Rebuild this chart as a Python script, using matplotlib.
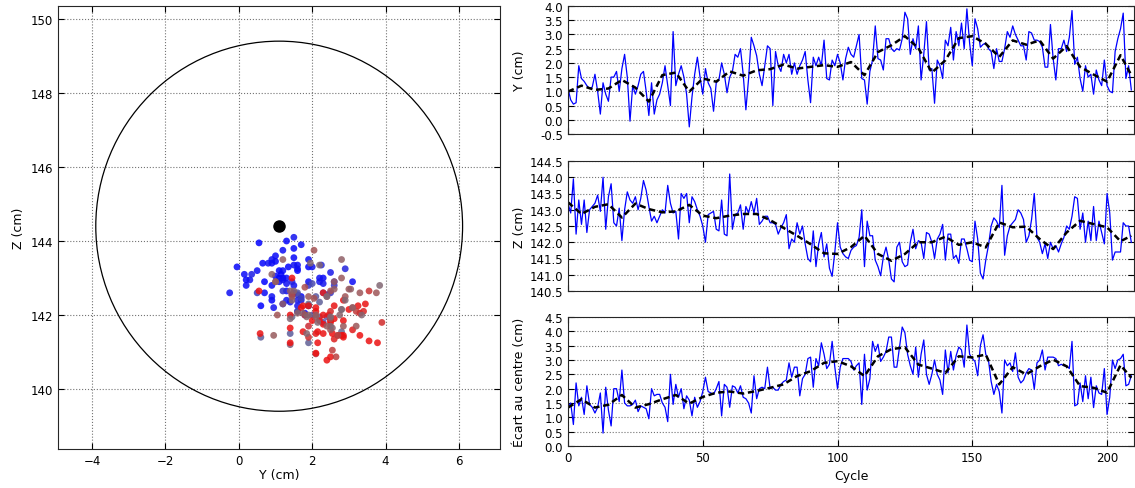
import numpy as np
import matplotlib.pyplot as plt
from matplotlib.patches import Circle
from matplotlib.colors import LinearSegmentedColormap

plt.rcParams['font.family'] = 'DejaVu Sans'
plt.rcParams['font.size'] = 8.5

# --- données (une valeur par cycle) ---
y_cm = [
    1.1, 0.7, 0.55, 0.6, 1.9, 1.45, 1.35, 1.2, 1.1, 1.15,
    1.6, 1.0, 0.2, 1.3, 0.9, 0.65, 1.5, 1.5, 1.7, 1.0,
    1.8, 2.3, 1.5, -0.05, 1.2, 0.9, 1.2, 1.6, 1.7, 1.0,
    0.15, 1.3, 0.2, 0.7, 0.9, 1.3, 1.9, 1.2, 0.5, 3.1,
    1.2, 1.6, 1.9, 1.5, 0.9, -0.25, 0.8, 1.6, 2.2, 1.5,
    0.9, 1.8, 1.3, 1.1, 0.3, 1.3, 1.4, 2.0, 1.6, 0.95,
    1.5, 1.7, 2.3, 2.2, 2.5, 1.6, 0.35, 1.45, 2.9, 2.6,
    2.25, 1.6, 1.2, 1.9, 2.6, 2.5, 0.5, 2.4, 1.9, 1.7,
    2.3, 2.0, 2.3, 1.6, 2.0, 1.6, 1.9, 2.1, 2.4, 1.4,
    0.6, 2.2, 1.9, 2.2, 1.9, 2.8, 1.45, 1.4, 2.1, 1.9,
    2.3, 2.0, 1.4, 2.15, 2.55, 2.3, 2.2, 2.6, 3.0, 1.45,
    1.4, 0.55, 1.7, 2.1, 3.3, 2.15, 2.1, 1.75, 2.85, 2.85,
    2.5, 2.4, 2.5, 2.45, 2.85, 3.78, 3.55, 2.3, 2.85, 2.5,
    3.3, 1.4, 2.3, 3.45, 1.75, 1.8, 0.58, 2.1, 1.9, 1.45,
    2.8, 2.6, 3.25, 2.1, 3.1, 2.6, 3.4, 2.5, 3.9, 2.7,
    1.9, 3.55, 3.2, 2.55, 2.65, 2.7, 2.5, 2.4, 1.8, 2.5,
    2.05, 2.05, 2.5, 3.1, 2.9, 3.3, 3.0, 2.8, 2.6, 2.6,
    2.1, 3.1, 3.05, 2.8, 2.8, 2.75, 2.55, 1.85, 1.85, 3.35,
    2.15, 1.4, 2.5, 2.5, 2.8, 2.4, 2.9, 3.84, 1.95, 2.2,
    1.45, 1.0, 1.9, 1.5, 1.6, 0.9, 1.75, 1.4, 1.2, 2.1,
    1.2, 1.0, 0.95, 2.4, 2.85, 3.2, 3.75, 1.45, 1.9, 1.05,
]

z_cm = [
    143.2, 142.9, 143.95, 142.25, 143.3, 142.55, 143.3, 142.3, 143.0, 143.1,
    143.2, 143.45, 142.95, 144.0, 142.4, 143.4, 143.8, 142.6, 142.5, 143.05,
    142.05, 143.0, 143.55, 143.3, 143.2, 143.4, 143.0, 143.35, 143.9, 143.6,
    143.1, 142.65, 142.8, 142.6, 142.8, 143.0, 142.9, 143.75, 143.2, 142.9,
    142.95, 142.1, 143.5, 143.35, 143.5, 142.6, 143.4, 143.25, 143.0, 142.8,
    142.5, 142.0, 142.85, 142.9, 142.95, 142.4, 142.35, 143.3, 142.25, 142.2,
    144.1, 142.4, 142.85, 142.9, 143.15, 142.4, 143.1, 142.9, 143.25, 142.9,
    143.35, 142.55, 142.65, 142.8, 142.8, 142.6, 142.6, 142.55, 142.25, 142.45,
    142.6, 142.85, 141.8, 142.1, 142.0, 142.6, 142.25, 142.5, 141.95, 141.5,
    141.4, 142.35, 141.25, 141.95, 142.3, 141.55, 141.95, 141.2, 140.95, 141.7,
    142.6, 141.85, 141.65, 141.55, 141.5, 141.75, 141.85, 141.9, 142.15, 143.0,
    141.25, 142.65, 142.2, 142.2, 141.45, 141.25, 140.97, 141.55, 141.85, 141.45,
    140.87, 140.78, 141.85, 142.0, 141.4, 141.25, 141.3, 142.0, 142.4, 141.8,
    142.05, 142.0, 141.5, 142.3, 142.25, 142.0, 141.5, 142.1, 142.25, 142.55,
    141.45, 142.25, 142.25, 141.5, 141.6, 141.35, 142.1, 142.1, 141.8, 141.45,
    141.4, 142.65, 142.1, 141.05, 140.87, 141.45, 141.9, 142.5, 142.75, 142.65,
    142.45, 143.75, 141.6, 142.2, 142.5, 142.6, 142.7, 143.0, 142.9, 142.7,
    142.0, 142.2, 142.7, 143.5, 142.15, 142.0, 141.65, 141.95, 141.5, 142.0,
    141.8, 141.9, 141.7, 141.95, 142.15, 142.5, 142.4, 142.8, 143.4, 143.35,
    142.4, 142.9, 142.0, 142.65, 142.05, 143.1, 142.05, 142.65, 142.3, 141.95,
    143.5, 142.9, 141.45, 141.7, 141.7, 141.7, 142.6, 142.5, 142.5, 142.0,
]

ecart_cm = [
    1.35, 1.5, 0.75, 2.2, 1.4, 1.7, 1.1, 2.1, 1.45, 1.35,
    1.15, 1.35, 1.85, 0.45, 2.05, 1.25, 0.7, 2.0, 2.0, 1.55,
    2.65, 1.5, 1.4, 1.4, 1.45, 1.6, 1.2, 1.4, 1.35, 1.3,
    0.95, 2.0, 1.75, 1.8, 1.8, 1.5, 1.35, 0.85, 2.5, 1.45,
    2.15, 1.7, 2.0, 1.3, 1.75, 1.6, 1.05, 1.7, 1.35, 1.55,
    1.9, 2.4, 1.9, 1.85, 1.8, 2.0, 2.25, 1.05, 2.15, 2.05,
    1.35, 2.1, 2.05, 1.85, 2.1, 1.7, 1.65, 1.5, 1.15, 2.45,
    1.65, 2.0, 2.05, 2.0, 2.75, 2.0, 2.05, 1.95, 1.95, 2.15,
    2.25, 2.3, 2.9, 2.4, 2.75, 2.75, 1.75, 2.35, 2.5, 3.05,
    3.1, 2.05, 3.05, 2.8, 3.6, 3.2, 2.7, 2.85, 3.65, 2.75,
    2.0, 2.75, 3.05, 3.05, 3.05, 2.95, 2.65, 2.8, 2.9, 1.45,
    3.2, 1.95, 2.35, 3.65, 3.3, 3.55, 2.95, 3.1, 3.3, 3.8,
    3.8, 2.75, 2.75, 3.45, 4.15, 3.95, 3.2, 2.8, 2.5, 3.45,
    2.4, 3.2, 3.7, 2.5, 2.15, 2.5, 3.0, 2.5, 2.3, 1.8,
    3.35, 2.55, 3.3, 2.65, 3.15, 3.45, 3.35, 2.75, 4.22, 3.2,
    3.05, 2.95, 2.45, 3.5, 3.88, 3.2, 3.0, 2.25, 1.8, 2.15,
    1.9, 1.15, 3.0, 2.8, 2.9, 2.6, 3.25, 2.4, 2.2, 2.3,
    2.55, 2.7, 2.65, 1.98, 2.9, 3.0, 3.35, 2.65, 3.1, 3.1,
    3.1, 3.05, 2.8, 2.85, 2.8, 2.8, 2.7, 3.65, 1.4, 1.45,
    2.2, 1.55, 2.45, 1.65, 2.4, 1.34, 2.1, 1.85, 1.8, 2.7,
    1.1, 1.7, 3.0, 2.7, 3.0, 3.05, 3.2, 2.1, 2.15, 2.45,
]

# courbes lissées (pointillés noirs), lues tous les 5 cycles
cycles_lisse = [0, 5, 10, 15, 20, 25, 30, 35, 40, 45, 50, 55, 60, 65, 70, 75, 80,
                85, 90, 95, 100, 105, 110, 115, 120, 125, 130, 135, 140, 145, 150,
                155, 160, 165, 170, 175, 180, 185, 190, 195, 200, 205, 209]
y_lisse = [0.99, 1.2, 1.05, 1.1, 1.4, 1.13, 0.64, 1.57, 1.66, 0.99, 1.45, 1.34,
           1.7, 1.55, 1.74, 1.78, 1.94, 1.8, 1.86, 1.92, 1.86, 2.03, 1.57, 2.38,
           2.62, 2.94, 2.52, 1.66, 2.09, 2.87, 2.94, 2.67, 2.21, 2.79, 2.64, 2.79,
           2.15, 2.59, 1.86, 1.59, 1.34, 2.27, 1.57]
z_lisse = [143.23, 142.87, 143.09, 143.17, 142.76, 143.19, 143.02, 142.92, 142.95,
           143.15, 142.82, 142.74, 142.82, 142.87, 142.87, 142.68, 142.44, 142.2,
           141.94, 141.66, 141.64, 141.85, 142.2, 141.64, 141.43, 141.64, 142.0,
           142.0, 142.17, 141.92, 142.0, 141.84, 142.61, 142.46, 142.48, 142.1,
           141.79, 142.3, 142.66, 142.56, 142.46, 142.03, 142.2]
ecart_lisse = [1.34, 1.63, 1.34, 1.44, 1.78, 1.34, 1.46, 1.63, 1.78, 1.48, 1.71,
               1.86, 1.9, 1.83, 1.92, 2.03, 2.15, 2.44, 2.61, 2.9, 2.96, 2.78,
               2.44, 3.13, 3.38, 3.44, 2.84, 2.7, 2.55, 3.13, 3.09, 3.19, 2.15,
               2.75, 2.5, 2.78, 3.01, 2.78, 2.09, 2.03, 1.86, 2.82, 2.38]

centre_y, centre_z, rayon = 1.1, 144.4, 5.0

cycles = np.arange(len(y_cm))

# couleur des points selon le cycle
cmap_cycle = LinearSegmentedColormap.from_list('cycle', [
    (0.0, '#0000ff'), (0.3, '#1414ee'), (0.4, '#5050a8'), (0.46, '#6a6a8c'),
    (0.48, '#f01010'), (0.68, '#e81414'), (0.76, '#a85050'), (0.88, '#7c6a78'),
    (1.0, '#a05454')])

fig = plt.figure(figsize=(11.35, 4.89), dpi=100)
W, H = 1135.0, 489.0

def boite(x0, y0, x1, y1):
    return [x0 / W, 1 - y1 / H, (x1 - x0) / W, (y1 - y0) / H]

def habiller(ax):
    ax.tick_params(direction='in', top=True, right=True, length=4, labelsize=8.5)
    ax.grid(True, linestyle=':', color='0.45', linewidth=0.8)
    for s in ax.spines.values():
        s.set_color('0.15')

# ---- panneau gauche : Y / Z ----
ax0 = fig.add_axes(boite(58, 7, 500, 450))
ax0.scatter(y_cm, z_cm, c=cycles, cmap=cmap_cycle, s=24, linewidths=0, alpha=0.85, zorder=3)
ax0.add_patch(Circle((centre_y, centre_z), rayon, fill=False, color='black', lw=0.9, zorder=2))
ax0.plot([centre_y], [centre_z], 'o', color='black', markersize=8, zorder=4)
ax0.set_xlim(-4.93, 7.12)
ax0.set_ylim(138.38, 150.35)
ax0.set_xticks([-4, -2, 0, 2, 4, 6])
ax0.set_yticks([140, 142, 144, 146, 148, 150])
ax0.set_xlabel('Y (cm)', fontsize=9, labelpad=1)
ax0.set_ylabel('Z (cm)', fontsize=9)
habiller(ax0)

# ---- panneaux de droite : séries temporelles ----
ax1 = fig.add_axes(boite(568, 7, 1134, 135))
ax2 = fig.add_axes(boite(568, 162, 1134, 292), sharex=ax1)
ax3 = fig.add_axes(boite(568, 318, 1134, 447), sharex=ax1)

series = [
    (ax1, y_cm, y_lisse, 'Y (cm)', (-0.5, 4.0), np.arange(-0.5, 4.01, 0.5)),
    (ax2, z_cm, z_lisse, 'Z (cm)', (140.5, 144.5), np.arange(140.5, 144.51, 0.5)),
    (ax3, ecart_cm, ecart_lisse, 'Écart au centre (cm)', (0.0, 4.5), np.arange(0.0, 4.51, 0.5)),
]
for ax, brut, lisse, etiquette, lim, graduations in series:
    ax.plot(cycles, brut, color='#0000ff', lw=0.9)
    ax.plot(cycles_lisse, lisse, color='black', lw=1.8, dashes=(2.5, 1.5))
    ax.set_ylim(*lim)
    ax.set_yticks(graduations)
    ax.yaxis.set_major_formatter(plt.FormatStrFormatter('%.1f'))
    ax.set_ylabel(etiquette, fontsize=9)
    habiller(ax)

ax1.set_xlim(0, 210)
ax1.set_xticks([0, 50, 100, 150, 200])
plt.setp(ax1.get_xticklabels(), visible=False)
plt.setp(ax2.get_xticklabels(), visible=False)
ax3.set_xlabel('Cycle', fontsize=9)
for ax in (ax1, ax2, ax3):
    ax.yaxis.set_label_coords(-0.075, 0.5)

fig.savefig('out.png', dpi=100, facecolor='white')
